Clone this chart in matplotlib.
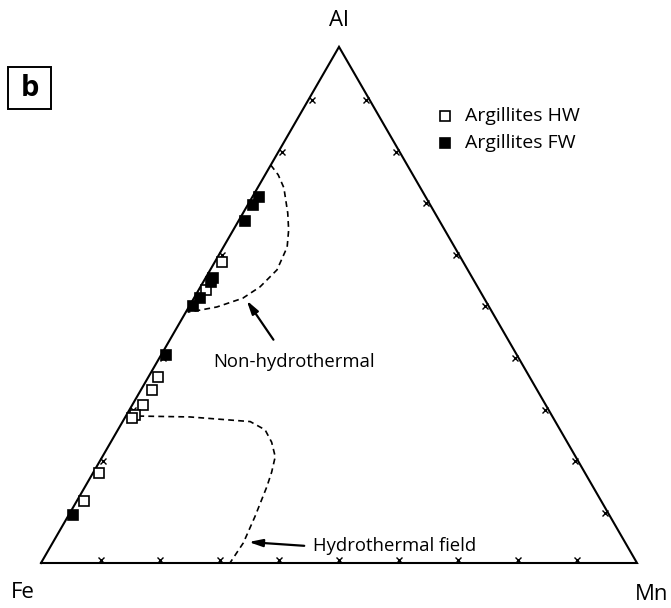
import numpy as np
import matplotlib.pyplot as plt
from matplotlib.patches import Rectangle

plt.rcParams['font.family'] = ['Open Sans', 'DejaVu Sans']

# compositions in % (Fe, Al, Mn)
hw_fe = [40.5, 45.8, 62.3, 64.7, 67.6, 69.9, 70.7, 81.5, 86.9]
hw_al = [58.4, 52.9, 36.1, 33.5, 30.6, 28.7, 28.1, 17.5, 12.1]
hw_mn = [1.1, 1.3, 1.6, 1.8, 1.8, 1.4, 1.2, 1.0, 1.1]

fw_fe = [28.0, 29.7, 32.7, 43.5, 44.3, 47.7, 49.6, 58.9, 89.7]
fw_al = [71.0, 69.4, 66.3, 55.2, 54.4, 51.3, 49.7, 40.3, 9.3]
fw_mn = [1.0, 0.9, 1.0, 1.3, 1.3, 1.0, 0.7, 0.8, 0.7]

# field boundaries (Al %, Mn %), Fe = rest
nonhydro_al = [77.1, 75.2, 72.7, 67.8, 64.5, 61.2, 56.8, 53.5, 51.3, 49.6, 49.0, 48.6]
nonhydro_mn = [0.0, 2.2, 4.4, 7.5, 9.3, 10.7, 11.2, 10.0, 8.2, 4.7, 2.2, 0.3]
hydro_al = [28.5, 28.3, 27.4, 25.8, 23.4, 20.6, 17.6, 14.8, 9.0, 3.9, 0.0]
hydro_mn = [0.4, 10.8, 21.4, 24.7, 27.0, 29.0, 29.9, 30.5, 31.4, 32.0, 31.7]

H = np.sqrt(3) / 2


def tern(fe, al, mn):
    fe, al, mn = np.asarray(fe, float), np.asarray(al, float), np.asarray(mn, float)
    t = fe + al + mn
    b, c = mn / t, al / t
    return b + c / 2, c * H


def tern2(al, mn):
    al, mn = np.asarray(al, float), np.asarray(mn, float)
    return tern(100 - al - mn, al, mn)


S = 596.0  # triangle side in pixels
fig = plt.figure(figsize=(6.71, 6.08), dpi=100)
ax = fig.add_axes([0, 0, 1, 1])
ax.set_xlim(-41 / S, 630 / S)
ax.set_ylim(-45 / S, 563 / S)
ax.axis('off')

# triangle
ax.plot([0, 1, 0.5, 0], [0, 0, H, 0], color='black', lw=1.5, solid_joinstyle='miter', zorder=2)

# ticks every 10 %
off = 3 / S
for k in range(1, 10):
    f = k / 10
    pts = [(f, 0, 0, 1), (f / 2, f * H, H, -0.5), (1 - f / 2, f * H, -H, -0.5)]
    for x, y, nx, ny in pts:
        ax.plot(x + nx * off, y + ny * off, marker='x', ms=4.5, mew=1.0, color='black', zorder=2)

# field boundaries
x, y = tern2(nonhydro_al, nonhydro_mn)
ax.plot(x, y, ls=(0, (3.5, 2.5)), color='black', lw=1.2, zorder=1)
x, y = tern2(hydro_al, hydro_mn)
ax.plot(x, y, ls=(0, (3.5, 2.5)), color='black', lw=1.2, zorder=1)

# samples
x, y = tern(hw_fe, hw_al, hw_mn)
ax.plot(x, y, 's', ms=7.4, mfc='white', mec='black', mew=1.2, ls='none', zorder=3)
x, y = tern(fw_fe, fw_al, fw_mn)
ax.plot(x, y, 's', ms=7.4, mfc='black', mec='black', mew=1.2, ls='none', zorder=3)

# vertex labels
ax.text(0.5, H + 26 / S, 'Al', ha='center', va='center', fontsize=16)
ax.text(-18 / S, -29 / S, 'Fe', ha='center', va='center', fontsize=16)
ax.text(594 / S, -32 / S, 'Mn', ha='left', va='center', fontsize=16)

# legend
ax.plot(404 / S, 447 / S, 's', ms=6.5, mfc='white', mec='black', mew=1.2)
ax.plot(404 / S, 420 / S, 's', ms=6.5, mfc='black', mec='black', mew=1.2)
ax.text(424 / S, 447 / S, 'Argillites HW', ha='left', va='center', fontsize=14)
ax.text(424 / S, 420 / S, 'Argillites FW', ha='left', va='center', fontsize=14)

# annotations
hx, hy = tern2([51.3], [8.6])
ax.annotate('', xy=(hx[0], hy[0]), xytext=(234 / S, 221 / S),
            arrowprops=dict(arrowstyle='-|>,head_length=0.8,head_width=0.22', color='black', lw=1.6))
ax.text(172 / S, 201 / S, 'Non-hydrothermal', ha='left', va='center', fontsize=13.3)

hx, hy = tern2([4.1], [32.0])
ax.annotate('', xy=(hx[0] + 2 / S, hy[0]), xytext=(266 / S, 17 / S),
            arrowprops=dict(arrowstyle='-|>,head_length=0.8,head_width=0.22', color='black', lw=1.6))
ax.text(272 / S, 17 / S, 'Hydrothermal field', ha='left', va='center', fontsize=13.3)

# panel letter
fig.patches.append(Rectangle((8 / 671, 1 - 109 / 608), 43 / 671, 42 / 608,
                             transform=fig.transFigure, fill=False, ec='black', lw=1.4))
fig.text(29.5 / 671, 1 - 88 / 608, 'b', ha='center', va='center', fontsize=21, fontweight='bold')

fig.savefig('out.png', dpi=100)
